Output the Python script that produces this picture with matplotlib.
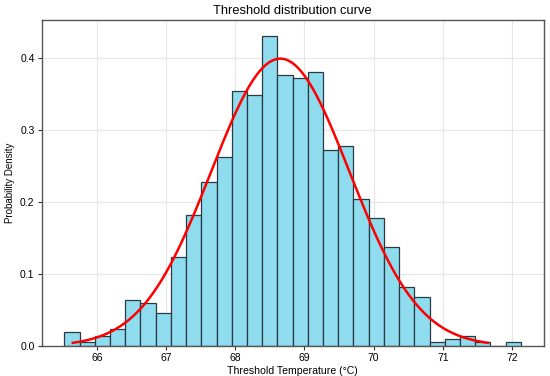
import numpy as np
import matplotlib
matplotlib.use("Agg")
import matplotlib.pyplot as plt

plt.rcParams['font.family'] = ['Liberation Sans', 'DejaVu Sans']

# Histogram: bin edges start and width, densities per bin
bin_start = 65.528
bin_width = 0.22
densities = [0.019, 0.005, 0.014, 0.023, 0.064, 0.060, 0.046, 0.123, 0.182, 0.227,
             0.263, 0.354, 0.349, 0.431, 0.376, 0.372, 0.381, 0.272, 0.277, 0.204,
             0.177, 0.137, 0.082, 0.068, 0.005, 0.010, 0.014, 0.005, 0.0, 0.005]

# Fitted normal curve parameters
mu = 68.65
sigma = 1.0

title = "Threshold distribution curve"
xlabel = "Threshold Temperature (°C)"
ylabel = "Probability Density"

edges = bin_start + bin_width * np.arange(len(densities) + 1)
centers = (edges[:-1] + edges[1:]) / 2

fig = plt.figure(figsize=(5.5, 3.76), dpi=100)
ax = fig.add_axes([0.0755, 0.0798, 0.913, 0.867])

ax.hist(centers, bins=edges, weights=densities, color='#8fdcef',
        edgecolor='#2a3a40', linewidth=0.9, zorder=2)

xs = np.linspace(mu - 3 * sigma, mu + 3 * sigma, 300)
ys = np.exp(-0.5 * ((xs - mu) / sigma) ** 2) / (sigma * np.sqrt(2 * np.pi))
ax.plot(xs, ys, color='red', linewidth=1.8, zorder=3)

ax.grid(True, color='#e6e6e6', linewidth=0.8, zorder=0)
ax.set_axisbelow(True)
ax.set_yticks([0.0, 0.1, 0.2, 0.3, 0.4])
ax.set_xticks([66, 67, 68, 69, 70, 71, 72])
ax.tick_params(labelsize=7.5, length=3, width=0.8, color='#333333', pad=2)
for s in ax.spines.values():
    s.set_color('#555555')
    s.set_linewidth(1.0)

ax.set_title(title, fontsize=9.3, pad=4)
ax.set_xlabel(xlabel, fontsize=7.6, labelpad=2)
ax.set_ylabel(ylabel, fontsize=7, labelpad=4)

fig.savefig("out.png", dpi=100)
